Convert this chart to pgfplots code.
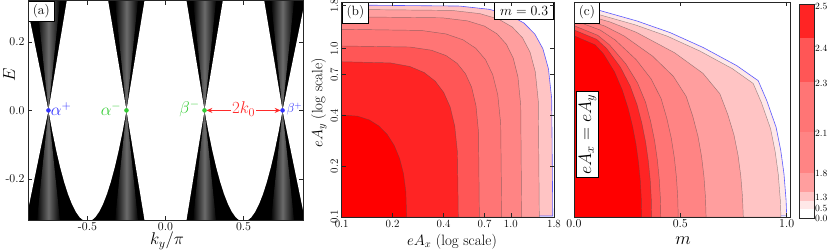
\RequirePackage{fix-cm}
\documentclass[border=0pt]{standalone}
\usepackage{pgfplots}
\pgfplotsset{compat=1.18}
\usetikzlibrary{arrows.meta}
\definecolor{c0}{HTML}{FF0000}
\definecolor{c1}{HTML}{FF2424}
\definecolor{c2}{HTML}{FF5656}
\definecolor{c3}{HTML}{FF7575}
\definecolor{c4}{HTML}{FF8484}
\definecolor{c5}{HTML}{FF9E9E}
\definecolor{c6}{HTML}{FFC4C4}
\definecolor{c7}{HTML}{FFE8E8}
\definecolor{bl}{HTML}{3333FF}
\definecolor{bline}{HTML}{5A5AFF}
\definecolor{gr}{HTML}{33CC33}
\definecolor{rd}{HTML}{FF2A2A}
\newcommand{\fs}[1]{\fontsize{#1}{#1}\selectfont}
\pgfplotsset{
  myax/.style={scale only axis, anchor=south west, axis on top,
    axis line style={black!85, line width=0.8pt},
    tick align=inside, major tick length=4pt,
    every tick/.style={black!85, line width=0.6pt}},
}
\tikzset{
  lab/.style={draw=black, fill=white, line width=0.7pt, inner xsep=4.5pt, inner ysep=3.5pt, font=\fs{13.5}},
  cl/.style={draw=black!70, draw opacity=0.55, line width=0.45pt},
  gsh/.style={draw=none, left color=black, right color=black, middle color=black!58},
}
\begin{document}
\begin{tikzpicture}[x=1pt,y=1pt]
% ---------------- (a) ----------------
\begin{axis}[myax, at={(28pt,31pt)}, width=275pt, height=219.2pt,
  xmin=-0.881, xmax=0.881, ymin=-0.32, ymax=0.32,
  xtick={-0.5,0,0.5}, xticklabels={{-0.5},{0.0},{0.5}},
  ytick={-0.2,0,0.2}, yticklabels={{-0.2},{0.0},{0.2}},
  tick label style={font=\fs{12}}, xticklabel style={yshift=1pt}]
\addplot[draw=none, fill=black] coordinates {(-0.9,-0.34) (0.9,-0.34) (0.9,0.34) (-0.9,0.34)} -- cycle;
% grey moire centres of the cones
\addplot[gsh] coordinates {(-0.75,0) (-0.827,0.335) (-0.673,0.335)} -- cycle;
\addplot[gsh] coordinates {(-0.75,0) (-0.827,-0.335) (-0.673,-0.335)} -- cycle;
\addplot[gsh] coordinates {(-0.25,0) (-0.327,0.335) (-0.173,0.335)} -- cycle;
\addplot[gsh] coordinates {(-0.25,0) (-0.327,-0.335) (-0.173,-0.335)} -- cycle;
\addplot[gsh] coordinates {(0.25,0) (0.173,0.335) (0.327,0.335)} -- cycle;
\addplot[gsh] coordinates {(0.25,0) (0.173,-0.335) (0.327,-0.335)} -- cycle;
\addplot[gsh] coordinates {(0.75,0) (0.673,0.335) (0.827,0.335)} -- cycle;
\addplot[gsh] coordinates {(0.75,0) (0.673,-0.335) (0.827,-0.335)} -- cycle;
% white gaps
\addplot[draw=none, fill=white] coordinates {(-0.25,0) (-0.131,0.33) (0.131,0.33) (0.25,0) (0.131,-0.33) (-0.131,-0.33)} -- cycle;
\addplot[draw=none, fill=white] coordinates {(-0.75,0) (-0.629,0.33) (-0.371,0.33) (-0.25,0)
 (-0.275,-0.0618) (-0.3,-0.117) (-0.325,-0.1658) (-0.35,-0.208) (-0.375,-0.2438) (-0.4,-0.273) (-0.425,-0.2958) (-0.45,-0.312) (-0.475,-0.3218) (-0.5,-0.325)
 (-0.525,-0.3218) (-0.55,-0.312) (-0.575,-0.2958) (-0.6,-0.273) (-0.625,-0.2438) (-0.65,-0.208) (-0.675,-0.1658) (-0.7,-0.117) (-0.725,-0.0618)} -- cycle;
\addplot[draw=none, fill=white] coordinates {(0.75,0) (0.629,0.33) (0.371,0.33) (0.25,0)
 (0.275,-0.0618) (0.3,-0.117) (0.325,-0.1658) (0.35,-0.208) (0.375,-0.2438) (0.4,-0.273) (0.425,-0.2958) (0.45,-0.312) (0.475,-0.3218) (0.5,-0.325)
 (0.525,-0.3218) (0.55,-0.312) (0.575,-0.2958) (0.6,-0.273) (0.625,-0.2438) (0.65,-0.208) (0.675,-0.1658) (0.7,-0.117) (0.725,-0.0618)} -- cycle;
\addplot[draw=none, fill=white] coordinates {(-0.75,0) (-0.9,0.3333) (-0.95,0.3333) (-0.95,-0.3333) (-0.9,-0.3333)} -- cycle;
\addplot[draw=none, fill=white] coordinates {(0.75,0) (0.9,0.3333) (0.95,0.3333) (0.95,-0.3333) (0.9,-0.3333)} -- cycle;
% annotations
\draw[rd, line width=0.9pt, {Stealth[length=6pt,width=5pt]}-{Stealth[length=6pt,width=5pt]}] (axis cs:0.262,0) -- (axis cs:0.738,0);
\node[text=rd, fill=white, inner sep=1pt, font=\fs{17}] at (axis cs:0.5,0.004) {$2k_0$};
\addplot[only marks, mark=*, mark size=2pt, color=bl] coordinates {(-0.75,0) (0.75,0)};
\addplot[only marks, mark=*, mark size=2pt, color=gr] coordinates {(-0.25,0) (0.25,0)};
\node[anchor=west, text=bl, font=\fs{17}, inner sep=1pt] at (axis cs:-0.742,0.004) {$\alpha^{+}$};
\node[anchor=east, text=gr, font=\fs{17}, inner sep=1pt] at (axis cs:-0.276,0.004) {$\alpha^{-}$};
\node[anchor=east, text=gr, font=\fs{17}, inner sep=1pt] at (axis cs:0.226,0.004) {$\beta^{-}$};
\node[anchor=west, text=bl, font=\fs{13}, inner sep=1pt] at (axis cs:0.768,0.004) {$\beta^{+}$};
\node[lab, anchor=north west] at (rel axis cs:0,1) {(a)};
\end{axis}
% ---------------- (b) ----------------
\begin{axis}[myax, at={(341.7pt,34pt)}, width=212.3pt, height=215pt,
  xmin=-1, xmax=0.2553, ymin=-1, ymax=0.2767,
  xtick={-1,-0.69897,-0.39794,-0.15490,0,0.25527}, xticklabels={0.1,0.2,0.4,0.7,1.0,1.8},
  ytick={-1,-0.69897,-0.39794,-0.15490,0,0.25527}, yticklabels={0.1,0.2,0.4,0.7,1.0,1.8},
  tick label style={font=\fs{11}}, yticklabel style={rotate=90, anchor=south}]
\addplot[fill=c6, draw=bline, line width=0.6pt] coordinates {(-0.994,-0.994) (0.248,-0.994) (0.2416,-0.2976) (0.2224,-0.1196) (0.1896,-0.0007) (0.1419,0.0865) (0.077,0.152) (-0.0095,0.2001) (-0.1273,0.2332) (-0.3037,0.2526) (-0.994,0.259)} -- cycle;
\addplot[fill=c5, cl] coordinates {(0.1685,-1) (0.1625,-0.3121) (0.1446,-0.1378) (0.1138,-0.0214) (0.0692,0.0641) (0.0084,0.1282) (-0.0726,0.1753) (-0.1829,0.2077) (-0.3481,0.2267) (-1,0.233) (-1,-1)} -- cycle;
\addplot[fill=c4, cl] coordinates {(0.064,-1) (0.0586,-0.3367) (0.0422,-0.1685) (0.0142,-0.0563) (-0.0264,0.0261) (-0.0818,0.0879) (-0.1555,0.1334) (-0.2559,0.1646) (-0.4064,0.1829) (-1,0.189) (-1,-1)} -- cycle;
\addplot[fill=c3, cl] coordinates {(-0.054,-1) (-0.0598,-0.4467) (-0.0773,-0.2744) (-0.1069,-0.1552) (-0.1496,-0.066) (-0.2073,0.0019) (-0.283,0.0523) (-0.3842,0.0872) (-0.5304,0.1078) (-1,0.1146) (-1,-1)} -- cycle;
\addplot[fill=c2, cl] coordinates {(-0.186,-1) (-0.191,-0.4959) (-0.206,-0.3389) (-0.2315,-0.2303) (-0.2683,-0.149) (-0.3179,-0.0872) (-0.3831,-0.0413) (-0.4701,-0.0095) (-0.5959,0.0093) (-1,0.0155) (-1,-1)} -- cycle;
\addplot[fill=c1, cl] coordinates {(-0.3105,-1) (-0.3157,-0.6158) (-0.3316,-0.4608) (-0.3583,-0.3481) (-0.3965,-0.2608) (-0.4472,-0.1931) (-0.5125,-0.142) (-0.5968,-0.1062) (-0.7127,-0.085) (-1,-0.078) (-1,-1)} -- cycle;
\addplot[fill=c0, cl] coordinates {(-0.616,-1) (-0.6207,-0.8507) (-0.6346,-0.7431) (-0.6577,-0.6519) (-0.6898,-0.5745) (-0.7304,-0.5104) (-0.7794,-0.4599) (-0.8372,-0.4234) (-0.9054,-0.4014) (-1,-0.394) (-1,-1)} -- cycle;
\node[lab, anchor=north west] at (rel axis cs:0,1) {(b)};
\node[lab, anchor=north east, font=\fs{14}, inner xsep=5.5pt, inner ysep=4pt] at (rel axis cs:1,1) {$m=0.3$};
\end{axis}
% ---------------- (c) ----------------
\begin{axis}[myax, at={(574pt,34pt)}, width=216pt, height=215pt,
  xmin=0, xmax=1.0155, ymin=0, ymax=1,
  xtick={0,0.5,1}, xticklabels={0.0,0.5,1.0}, ytick=\empty,
  tick label style={font=\fs{12}}, xticklabel style={yshift=1pt}]
\addplot[fill=c7, draw=bline, line width=0.6pt] coordinates {(0.005,0.994) (0.13,0.958) (0.295,0.912) (0.451,0.858) (0.608,0.788) (0.765,0.704) (0.866,0.634) (0.906,0.542) (0.95,0.418) (0.972,0.31) (0.987,0.202) (0.997,0.079) (1.0,0.005) (0.005,0.005)} -- cycle;
\addplot[fill=c6, cl] coordinates {(0,0.974) (0.1265,0.939) (0.287,0.894) (0.4388,0.841) (0.5916,0.772) (0.7443,0.690) (0.8426,0.621) (0.8815,0.531) (0.9244,0.410) (0.9458,0.304) (0.9604,0.198) (0.9701,0.077) (0.973,0) (0,0)} -- cycle;
\addplot[fill=c5, cl] coordinates {(0,0.955) (0.1689,0.9073) (0.2921,0.8595) (0.4728,0.764) (0.606,0.6685) (0.6858,0.573) (0.7228,0.4775) (0.7521,0.382) (0.7713,0.2865) (0.7841,0.191) (0.792,0.0955) (0.796,0) (0,0)} -- cycle;
\addplot[fill=c4, cl] coordinates {(0,0.935) (0.1442,0.8883) (0.2365,0.8415) (0.3696,0.748) (0.4669,0.6545) (0.5274,0.561) (0.5587,0.4675) (0.5832,0.374) (0.5999,0.2805) (0.6111,0.187) (0.6179,0.0935) (0.621,0) (0,0)} -- cycle;
\addplot[fill=c3, cl] coordinates {(0,0.915) (0.1235,0.8693) (0.1934,0.8235) (0.2922,0.732) (0.3638,0.6405) (0.4101,0.549) (0.4367,0.4575) (0.4575,0.366) (0.4719,0.2745) (0.4817,0.183) (0.4876,0.0915) (0.49,0) (0,0)} -- cycle;
\addplot[fill=c2, cl] coordinates {(0,0.89) (0.111,0.8455) (0.1666,0.801) (0.2438,0.712) (0.299,0.623) (0.3364,0.534) (0.3602,0.445) (0.3787,0.356) (0.3917,0.267) (0.4007,0.178) (0.406,0.089) (0.408,0) (0,0)} -- cycle;
\addplot[fill=c1, cl] coordinates {(0,0.87) (0.1066,0.8265) (0.154,0.783) (0.2186,0.696) (0.2641,0.609) (0.2965,0.522) (0.3192,0.435) (0.3367,0.348) (0.3493,0.261) (0.3581,0.174) (0.3632,0.087) (0.365,0) (0,0)} -- cycle;
\addplot[fill=c0, cl] coordinates {(0,0.843) (0.0992,0.8009) (0.1386,0.7587) (0.1908,0.6744) (0.2271,0.5901) (0.2544,0.5058) (0.2754,0.4215) (0.2916,0.3372) (0.3034,0.2529) (0.3116,0.1686) (0.3164,0.0843) (0.318,0) (0,0)} -- cycle;
\node[lab, anchor=north west] at (rel axis cs:0,1) {(c)};
\node[draw=black, fill=white, line width=0.7pt, rotate=90, font=\fs{18}, inner xsep=3pt, inner ysep=2pt] at (axis cs:0.0635,0.384) {$eA_x=eA_y$};
\end{axis}
% ---------------- colour bar ----------------
\begin{axis}[myax, at={(799.3pt,33pt)}, width=14.7pt, height=214pt,
  xmin=0, xmax=1, ymin=0, ymax=214, xtick=\empty,
  ytick={0,9.5,20.5,44.7,84.7,134.7,169.7,211.3},
  yticklabels={0.0,0.5,1.3,1.8,2.1,2.3,2.4,2.5},
  yticklabel pos=right, major tick length=0pt,
  tick label style={font=\fs{9.5}}, yticklabel style={inner sep=0pt, xshift=1pt}]
\addplot[draw=none, fill=c1] coordinates {(0,180) (1,180) (1,214) (0,214)} -- cycle;
\addplot[draw=none, fill=c2] coordinates {(0,136) (1,136) (1,180) (0,180)} -- cycle;
\addplot[draw=none, fill=c3] coordinates {(0,86) (1,86) (1,136) (0,136)} -- cycle;
\addplot[draw=none, fill=c4] coordinates {(0,45) (1,45) (1,86) (0,86)} -- cycle;
\addplot[draw=none, fill=c5] coordinates {(0,26) (1,26) (1,45) (0,45)} -- cycle;
\addplot[draw=none, fill=c6] coordinates {(0,17) (1,17) (1,26) (0,26)} -- cycle;
\addplot[draw=none, fill=c7] coordinates {(0,9) (1,9) (1,17) (0,17)} -- cycle;
\end{axis}
% ---------------- axis titles ----------------
\node[rotate=90, font=\fs{17}, inner sep=0pt] at (9,176) {$E$};
\node[font=\fs{17}, inner sep=0pt] at (167,10) {$k_y/\pi$};
\node[font=\fs{15}, inner sep=0pt] at (452,9.5) {$eA_x$ (log scale)};
\node[rotate=90, font=\fs{15}, inner sep=0pt] at (319,148) {$eA_y$ (log scale)};
\node[font=\fs{18}, inner sep=0pt] at (683,10) {$m$};
\pgfresetboundingbox
\path[use as bounding box] (0,0) rectangle (830,251);
\end{tikzpicture}
\end{document}
